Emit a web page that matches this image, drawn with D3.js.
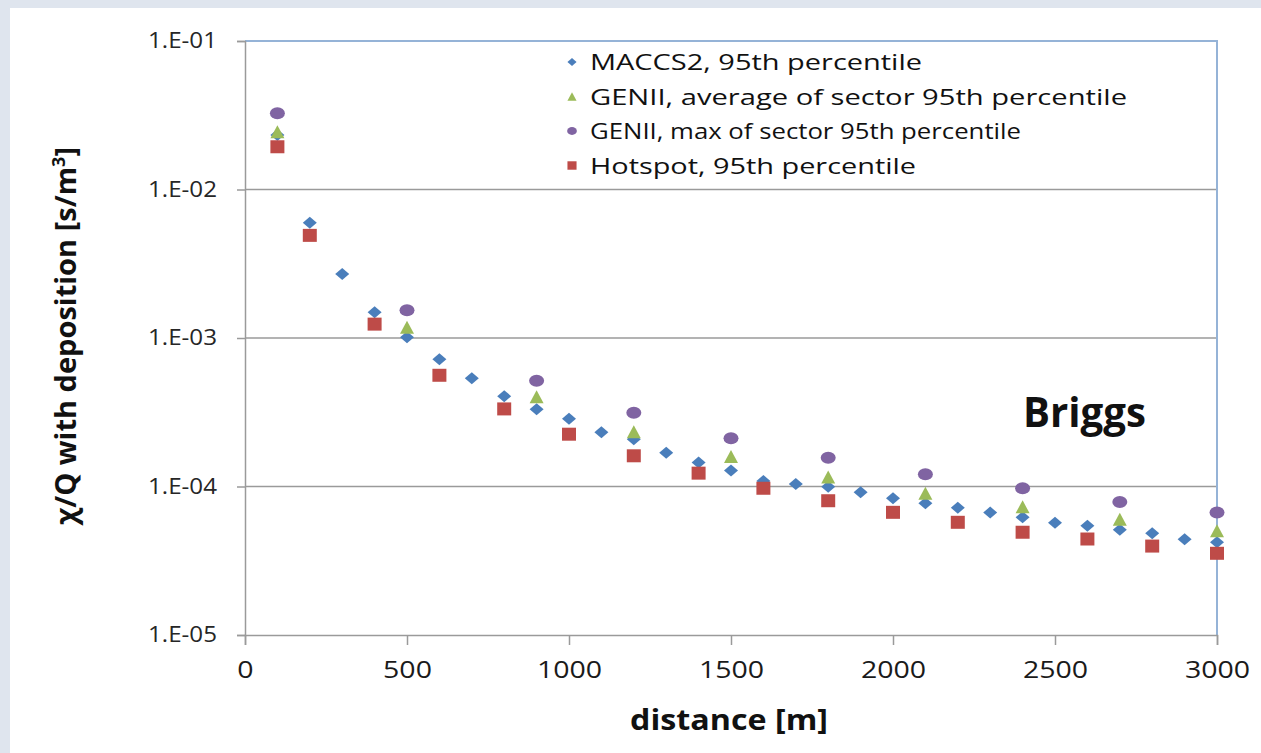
<!DOCTYPE html>
<html>
<head>
<meta charset="utf-8">
<script src="https://cdn.jsdelivr.net/npm/d3@7"></script>
<style>
  html, body { margin: 0; padding: 0; background: #dfe5ee; }
  svg { display: block; font-family: "Open Sans", "Noto Sans", sans-serif; }
</style>
</head>
<body>
<script>
// distances in m
var dist100 = [100, 200, 300, 400, 500, 600, 700, 800, 900, 1000, 1100, 1200, 1300, 1400, 1500,
    1600, 1700, 1800, 1900, 2000, 2100, 2200, 2300, 2400, 2500, 2600, 2700, 2800, 2900, 3000];
var dist200 = [100, 200, 400, 600, 800, 1000, 1200, 1400, 1600, 1800, 2000, 2200, 2400, 2600, 2800, 3000];
var distGenii = [100, 500, 900, 1200, 1500, 1800, 2100, 2400, 2700, 3000];

// chi/Q values
var maccs2 = [2.33e-2, 5.98e-3, 2.70e-3, 1.49e-3, 1.01e-3, 7.18e-4, 5.35e-4, 4.06e-4, 3.31e-4, 2.86e-4,
    2.32e-4, 2.08e-4, 1.69e-4, 1.45e-4, 1.28e-4, 1.09e-4, 1.04e-4, 9.98e-5, 9.14e-5, 8.33e-5,
    7.70e-5, 7.20e-5, 6.67e-5, 6.20e-5, 5.70e-5, 5.45e-5, 5.12e-5, 4.84e-5, 4.41e-5, 4.21e-5];
var geniiAvg = [2.45e-2, 1.18e-3, 4.02e-4, 2.34e-4, 1.59e-4, 1.16e-4, 9.0e-5, 7.3e-5, 6.01e-5, 5.04e-5];
var geniiMax = [3.26e-2, 1.54e-3, 5.16e-4, 3.14e-4, 2.11e-4, 1.56e-4, 1.21e-4, 9.73e-5, 7.87e-5, 6.67e-5];
var hotspot = [1.94e-2, 4.91e-3, 1.24e-3, 5.61e-4, 3.33e-4, 2.25e-4, 1.61e-4, 1.23e-4, 9.73e-5,
    8.02e-5, 6.7e-5, 5.74e-5, 4.92e-5, 4.43e-5, 3.97e-5, 3.55e-5];

var seriesNames = ["MACCS2, 95th percentile", "GENII, average of sector 95th percentile",
    "GENII, max of sector 95th percentile", "Hotspot, 95th percentile"];
var yTicks = [1e-5, 1e-4, 1e-3, 1e-2, 1e-1];
var xTicks = [0, 500, 1000, 1500, 2000, 2500, 3000];

var W = 1261, H = 753;
var plotL = 245, plotR = 1217, plotT = 41, plotB = 635;

var x = d3.scaleLinear().domain([0, 3000]).range([plotL, plotR]);
var y = d3.scaleLog().domain([1e-5, 1e-1]).range([plotB, plotT]);

var svg = d3.select("body").append("svg")
    .attr("width", W)
    .attr("height", H);

// white panel
svg.append("rect")
    .attr("x", 10).attr("y", 8)
    .attr("width", W - 10).attr("height", H - 8)
    .attr("fill", "#ffffff");

// gridlines
svg.append("g")
    .selectAll("line")
    .data(yTicks.slice(1, 4))
    .enter().append("line")
    .attr("x1", plotL).attr("x2", plotR)
    .attr("y1", function(d) { return y(d); })
    .attr("y2", function(d) { return y(d); })
    .attr("stroke", "#9a9a9a")
    .attr("stroke-width", 1.5);

// top + right border (light blue)
svg.append("path")
    .attr("d", "M" + plotL + "," + plotT + "H" + plotR + "V" + plotB)
    .attr("fill", "none")
    .attr("stroke", "#95b3d7")
    .attr("stroke-width", 2);

// y axis
var yAxis = d3.axisLeft(y)
    .tickValues(yTicks)
    .tickSize(8)
    .tickPadding(20)
    .tickFormat(function(d) { return "1.E-0" + Math.round(-Math.log10(d)); });

var gy = svg.append("g")
    .attr("transform", "translate(" + plotL + ",0)")
    .call(yAxis);
gy.select(".domain").attr("stroke", "#9a9a9a").attr("stroke-width", 1.5);
gy.selectAll(".tick line").attr("stroke", "#9a9a9a").attr("stroke-width", 1.5);
gy.selectAll(".tick text")
    .attr("font-size", 21)
    .attr("fill", "#262626")
    .attr("textLength", 69)
    .attr("lengthAdjust", "spacingAndGlyphs")
    .attr("font-family", "Open Sans");

// x axis
var xAxis = d3.axisBottom(x)
    .tickValues(xTicks)
    .tickSize(10)
    .tickPadding(16)
    .tickFormat(d3.format("d"));

var gx = svg.append("g")
    .attr("transform", "translate(0," + plotB + ")")
    .call(xAxis);
gx.select(".domain").attr("stroke", "#9a9a9a").attr("stroke-width", 1.5);
gx.selectAll(".tick line").attr("stroke", "#9a9a9a").attr("stroke-width", 1.5);
gx.selectAll(".tick text")
    .attr("font-size", 24)
    .attr("fill", "#1a1a1a")
    .attr("font-family", "Open Sans")
    .attr("textLength", function(d) { return String(d).length * 16.3; })
    .attr("lengthAdjust", "spacingAndGlyphs");

// axis titles
svg.append("text")
    .attr("x", 729)
    .attr("y", 730)
    .attr("text-anchor", "middle")
    .attr("font-size", 28)
    .attr("font-weight", "bold")
    .attr("fill", "#111")
    .attr("textLength", 198)
    .attr("lengthAdjust", "spacingAndGlyphs")
    .text("distance [m]");

var ylab = svg.append("text")
    .attr("transform", "translate(76,336) rotate(-90)")
    .attr("text-anchor", "middle")
    .attr("font-size", 29)
    .attr("font-weight", "bold")
    .attr("fill", "#111");
ylab.append("tspan").text("\u03c7/Q with deposition [s/m");
ylab.append("tspan").attr("font-size", 18).attr("dy", -11).text("3");
ylab.append("tspan").attr("dy", 11).text("]");

// "Briggs"
svg.append("text")
    .attr("x", 1023)
    .attr("y", 427)
    .attr("font-size", 41)
    .attr("font-weight", "bold")
    .attr("fill", "#111")
    .attr("textLength", 123)
    .attr("lengthAdjust", "spacingAndGlyphs")
    .text("Briggs");

// marker shapes (slightly wider than tall, like the stretched original)
function diamond(w, h) {
    return "M0," + (-h / 2) + "L" + (w / 2) + ",0L0," + (h / 2) + "L" + (-w / 2) + ",0Z";
}
function square(w, h) {
    return "M" + (-w / 2) + "," + (-h / 2) + "h" + w + "v" + h + "h" + (-w) + "Z";
}
function triangle(w, h) {
    return "M0," + (-h / 2) + "L" + (w / 2) + "," + (h / 2) + "L" + (-w / 2) + "," + (h / 2) + "Z";
}
function ellipse(w, h) {
    var rx = w / 2, ry = h / 2;
    return "M" + (-rx) + ",0A" + rx + "," + ry + " 0 1,0 " + rx + ",0A" + rx + "," + ry + " 0 1,0 " + (-rx) + ",0Z";
}

var series = [
    { name: seriesNames[0], xs: dist100, ys: maccs2, color: "#4a7ebb", shape: diamond, w: 14, h: 12 },
    { name: seriesNames[1], xs: distGenii, ys: geniiAvg, color: "#9bbb59", shape: triangle, w: 14, h: 13 },
    { name: seriesNames[2], xs: distGenii, ys: geniiMax, color: "#8064a2", shape: ellipse, w: 15, h: 12 },
    { name: seriesNames[3], xs: dist200, ys: hotspot, color: "#be4b48", shape: square, w: 14, h: 13 }
];

series.forEach(function(s) {
    var pts = s.xs.map(function(d, i) { return { x: d, y: s.ys[i] }; });
    svg.append("g")
        .selectAll("path")
        .data(pts)
        .enter().append("path")
        .attr("transform", function(d) { return "translate(" + x(d.x) + "," + y(d.y) + ")"; })
        .attr("d", s.shape(s.w, s.h))
        .attr("fill", s.color);
});

// legend
var legendWidths = [332, 537, 431, 326];
var legend = svg.append("g");
series.forEach(function(s, i) {
    var ly = 62 + i * 34.5;
    legend.append("path")
        .attr("transform", "translate(572," + ly + ")")
        .attr("d", s.shape(s.w * 0.65, s.h * 0.65))
        .attr("fill", s.color);
    legend.append("text")
        .attr("x", 590)
        .attr("y", ly + 8)
        .attr("font-size", 21)
        .attr("fill", "#111")
        .attr("textLength", legendWidths[i])
        .attr("lengthAdjust", "spacingAndGlyphs")
        .text(s.name);
});
</script>
</body>
</html>
